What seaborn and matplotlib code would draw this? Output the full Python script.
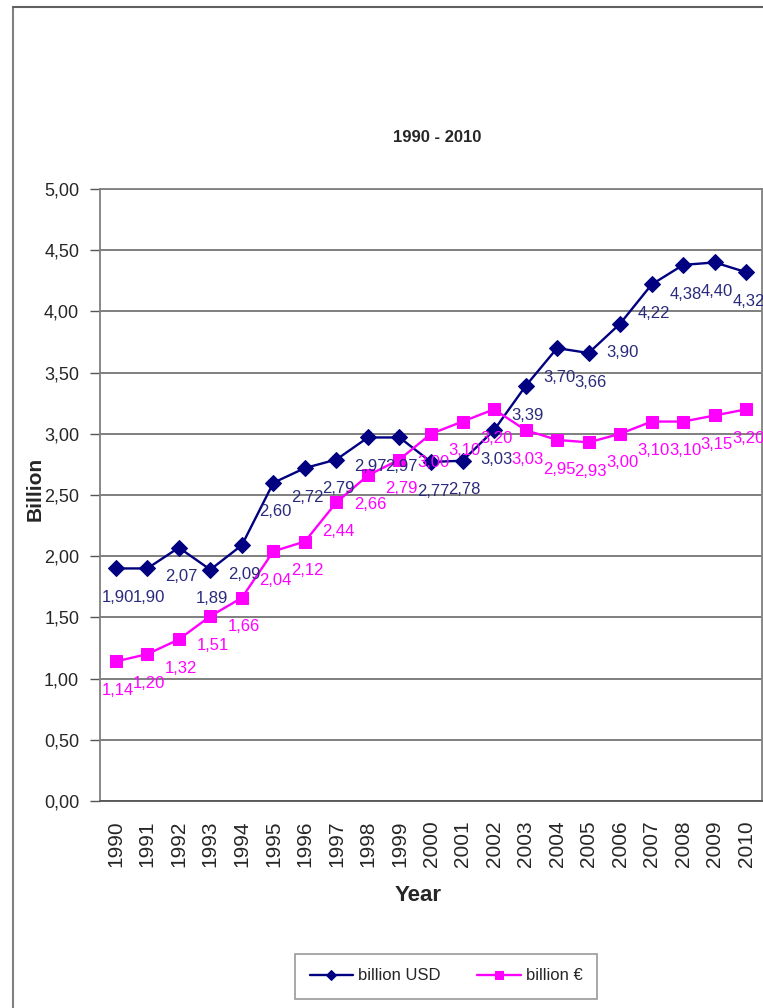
import numpy as np
import pandas as pd
import matplotlib.pyplot as plt
import matplotlib.lines as mlines
import seaborn as sns

years = [str(y) for y in range(1990, 2011)]
usd = [1.90, 1.90, 2.07, 1.89, 2.09, 2.60, 2.72, 2.79, 2.97, 2.97, 2.77,
       2.78, 3.03, 3.39, 3.70, 3.66, 3.90, 4.22, 4.38, 4.40, 4.32]
eur = [1.14, 1.20, 1.32, 1.51, 1.66, 2.04, 2.12, 2.44, 2.66, 2.79, 3.00,
       3.10, 3.20, 3.03, 2.95, 2.93, 3.00, 3.10, 3.10, 3.15, 3.20]
y_ticks = [0.0, 0.5, 1.0, 1.5, 2.0, 2.5, 3.0, 3.5, 4.0, 4.5, 5.0]

navy = "#000080"
magenta = "#ff00ff"


def comma(v):
    return f"{v:.2f}".replace(".", ",")


sns.set_style("white")
plt.rcParams["font.family"] = ["Liberation Sans", "DejaVu Sans"]

df = pd.DataFrame({"pos": np.arange(len(years)), "usd": usd, "eur": eur})

fig = plt.figure(figsize=(7.63, 10.08), dpi=100)
ax = fig.add_axes([100 / 763, 207 / 1008, 662 / 763, 612 / 1008])

sns.lineplot(data=df, x="pos", y="usd", ax=ax, color=navy, marker="D",
             markersize=8, markeredgecolor=navy, linewidth=1.7,
             label="billion USD", legend=False)
sns.lineplot(data=df, x="pos", y="eur", ax=ax, color=magenta, marker="s",
             markersize=9, markeredgecolor=magenta, linewidth=1.7,
             label="billion €", legend=False)

for i, v in enumerate(usd):
    ax.annotate(comma(v), (i, v), xytext=(1.5, -21), textcoords="offset points",
                ha="center", va="center", fontsize=12, color="#2a2a7c")
for i, v in enumerate(eur):
    ax.annotate(comma(v), (i, v), xytext=(1.5, -21), textcoords="offset points",
                ha="center", va="center", fontsize=12, color=magenta)

ax.set_xlim(-0.5, len(years) - 0.5)
ax.set_ylim(0, 5)
ax.set_yticks(y_ticks)
ax.set_yticklabels([comma(t) for t in y_ticks], fontsize=13)
ax.set_xticks(np.arange(len(years)))
ax.set_xticklabels(years, rotation=90, fontsize=15)
ax.set_xticks(np.arange(len(years) + 1) - 0.5, minor=True)
ax.tick_params(axis="x", which="major", length=0, pad=14)
ax.tick_params(axis="x", which="minor", length=7, width=1, color="#555555", direction="out")
ax.tick_params(axis="y", length=7, width=1, color="#555555", direction="out", left=True, pad=8)
ax.grid(axis="y", color="#7f7f7f", linewidth=1.4)
ax.set_axisbelow(True)
for side in ["left", "right", "top"]:
    ax.spines[side].set_color("#808080")
    ax.spines[side].set_linewidth(1.3)
ax.spines["bottom"].set_color("#555555")
ax.spines["bottom"].set_linewidth(1.3)

ax.set_xlabel("Year", fontsize=16, fontweight="bold")
ax.set_ylabel("Billion", fontsize=15, fontweight="bold")
ax.xaxis.set_label_coords(0.48, -0.137)
ax.yaxis.set_label_coords(-0.083, 0.51)

fig.text(437 / 763, 1 - 137 / 1008, "1990 - 2010", ha="center", va="center",
         fontsize=12, fontweight="bold")

# outer chart frame (left and top edges visible)
fig.add_artist(mlines.Line2D([13 / 763, 13 / 763], [0, 1 - 7 / 1008],
                             transform=fig.transFigure, color="#808080", linewidth=1.5))
fig.add_artist(mlines.Line2D([13 / 763, 1.0], [1 - 7 / 1008, 1 - 7 / 1008],
                             transform=fig.transFigure, color="#606060", linewidth=1.5))

handles, labels = ax.get_legend_handles_labels()
leg = fig.legend(handles, labels, loc="center", bbox_to_anchor=(446 / 763, 1 - 976 / 1008),
                 ncol=2, fontsize=12, frameon=True, fancybox=False, shadow=False,
                 handlelength=2.6, handletextpad=0.3, columnspacing=2.2,
                 borderpad=0.9, markerscale=0.6)
leg.get_frame().set_edgecolor("#808080")
leg.get_frame().set_linewidth(1.2)

fig.savefig("out.png", dpi=100)
